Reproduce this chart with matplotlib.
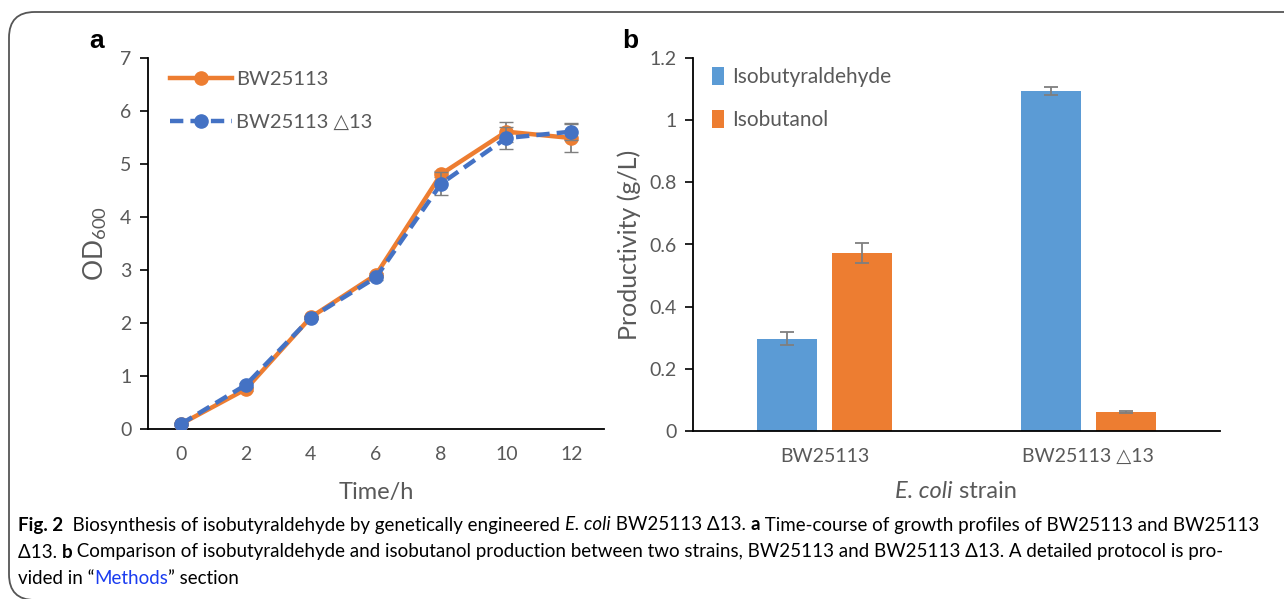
import matplotlib
matplotlib.use("Agg")
import matplotlib.pyplot as plt
from matplotlib.patches import FancyBboxPatch
import numpy as np

# panel a: growth curves
time_h = [0, 2, 4, 6, 8, 10, 12]
od_wt = [0.09, 0.75, 2.11, 2.91, 4.81, 5.61, 5.49]
od_wt_err = [0.02, 0.03, 0.03, 0.04, 0.05, 0.19, 0.27]
od_d13 = [0.09, 0.83, 2.10, 2.86, 4.63, 5.49, 5.61]
od_d13_err = [0.02, 0.03, 0.03, 0.04, 0.21, 0.20, 0.16]
line_labels = ["BW25113", "BW25113 \u25b313"]

# panel b: productivity
strains = ["BW25113", "BW25113 \u25b313"]
aldehyde = [0.297, 1.094]
aldehyde_err = [0.020, 0.012]
butanol = [0.573, 0.061]
butanol_err = [0.033, 0.002]
bar_labels = ["Isobutyraldehyde", "Isobutanol"]

ORANGE = "#ED7D31"
BLUE_LINE = "#4472C4"
BLUE_BAR = "#5B9BD5"
GREY = "#595959"
FONT = "Lato"

plt.rcParams["font.family"] = [FONT, "DejaVu Sans"]
plt.rcParams["mathtext.fontset"] = "custom"
plt.rcParams["mathtext.rm"] = FONT
plt.rcParams["mathtext.it"] = FONT + ":italic"

W, H = 1284, 599
fig = plt.figure(figsize=(W / 100, H / 100), dpi=100)

# rounded frame around the figure
frame = FancyBboxPatch((9 / W, 1 - 600 / H), 1.2, 588 / H,
                       boxstyle="round,pad=0,rounding_size=0.02",
                       transform=fig.transFigure, fill=False,
                       ec="#555555", lw=1.3, mutation_aspect=W / H)
fig.patches.append(frame)


def px_axes(l, t, r, b):
    return fig.add_axes([l / W, 1 - b / H, (r - l) / W, (b - t) / H])


def style(ax):
    for s in ["top", "right"]:
        ax.spines[s].set_visible(False)
    for s in ["left", "bottom"]:
        ax.spines[s].set_color("#000000")
        ax.spines[s].set_linewidth(1.3)
    ax.tick_params(axis="y", direction="out", length=6, width=1.2,
                   colors="#000000", labelcolor=GREY, labelsize=14, pad=6)
    ax.tick_params(axis="x", length=0, labelcolor=GREY, labelsize=14, pad=12)


# ---- panel a
axa = px_axes(148, 58, 604, 429)
style(axa)
axa.errorbar(time_h, od_wt, yerr=od_wt_err, color=ORANGE, lw=3.2,
             marker="o", ms=9.5, ecolor="#7f7f7f", elinewidth=1.3, capsize=5,
             label=line_labels[0], zorder=3)
axa.errorbar(time_h, od_d13, yerr=od_d13_err, color=BLUE_LINE, lw=3.2,
             ls=(0, (3, 1.6)), marker="o", ms=9.5, ecolor="#7f7f7f",
             elinewidth=1.3, capsize=5, label=line_labels[1], zorder=4)
axa.set_xlim(-1, 13)
axa.set_ylim(0, 7)
axa.set_xticks(time_h)
axa.set_yticks(range(0, 8))
axa.set_xlabel("Time/h", fontsize=17, color=GREY, labelpad=14)
axa.set_ylabel("OD$_{600}$", fontsize=19, color=GREY, labelpad=8)
h, l = axa.get_legend_handles_labels()
h = [x[0] for x in h]
axa.legend(h, l, loc="upper left", bbox_to_anchor=(0.048, 0.965), frameon=False,
           fontsize=14.5, handlelength=3.1, labelspacing=1.3, borderpad=0,
           borderaxespad=0, handletextpad=0.2, labelcolor=GREY)

# ---- panel b
axb = px_axes(693, 58, 1220, 431)
style(axb)
x = np.arange(len(strains))
bw = 0.228
err_kw = dict(ecolor="#7f7f7f", elinewidth=1.3, capsize=5, capthick=1.3)
axb.bar(x - 0.143, aldehyde, bw, yerr=aldehyde_err, color=BLUE_BAR,
        label=bar_labels[0], error_kw=err_kw)
axb.bar(x + 0.143, butanol, bw, yerr=butanol_err, color=ORANGE,
        label=bar_labels[1], error_kw=err_kw)
axb.set_xlim(-0.5, 1.5)
axb.set_ylim(0, 1.2)
yt = [0, 0.2, 0.4, 0.6, 0.8, 1.0, 1.2]
axb.set_yticks(yt)
axb.set_yticklabels(["0", "0.2", "0.4", "0.6", "0.8", "1", "1.2"])
axb.set_xticks(x)
axb.set_xticklabels(strains)
axb.set_ylabel("Productivity (g/L)", fontsize=18, color=GREY, labelpad=6)
axb.legend(loc="upper left", bbox_to_anchor=(0.036, 0.975), frameon=False,
           fontsize=15, handlelength=0.6, handleheight=0.9, labelspacing=1.1,
           borderpad=0, borderaxespad=0, handletextpad=0.35, labelcolor=GREY)

# panel letters
fig.text(97 / W, 1 - 41 / H, "a", fontsize=19, fontweight="bold",
         family=["Liberation Sans"], ha="center", va="center")
fig.text(630 / W, 1 - 41 / H, "b", fontsize=19, fontweight="bold",
         family=["Liberation Sans"], ha="center", va="center")

fig.canvas.draw()
r = fig.canvas.get_renderer()


def draw_runs(runs, x0, yy, size, family, center=False):
    # runs: (text, weight, style, colour); returns total width in px
    pieces = []
    xx = x0
    for txt, wt, st, col in runs:
        t = fig.text(xx / W, 1 - yy / H, txt, fontsize=size, fontweight=wt,
                     style=st, color=col, family=family, va="center",
                     ha="left")
        pieces.append(t)
        xx += t.get_window_extent(renderer=r).width
    tot = xx - x0
    if center:
        for t in pieces:
            px, py = t.get_position()
            t.set_position((px - tot / 2 / W, py))
    return tot


# x label of panel b with italic species name
draw_runs([("E. coli", "normal", "italic", GREY),
           (" strain", "normal", "normal", GREY)],
          956, 491, 17, [FONT], center=True)

# caption, drawn run by run and shrunk to the width of the box
cap_font = [FONT, "DejaVu Sans"]
cap_lines = [
    [("Fig. 2", "bold", "normal", "black"),
     ("  Biosynthesis of isobutyraldehyde by genetically engineered ", "normal", "normal", "black"),
     ("E. coli", "normal", "italic", "black"),
     (" BW25113 \u039413. ", "normal", "normal", "black"),
     ("a", "bold", "normal", "black"),
     (" Time-course of growth profiles of BW25113 and BW25113", "normal", "normal", "black")],
    [("\u039413. ", "normal", "normal", "black"),
     ("b", "bold", "normal", "black"),
     (" Comparison of isobutyraldehyde and isobutanol production between two strains, BW25113 and BW25113 \u039413. A detailed protocol is pro-",
      "normal", "normal", "black")],
    [("vided in \u201c", "normal", "normal", "black"),
     ("Methods", "normal", "normal", "#1a3cf0"),
     ("\u201d section", "normal", "normal", "black")],
]
cap_y = [525, 552, 578]


def line_width(runs, size):
    tot = 0
    for txt, wt, st, col in runs:
        t = fig.text(0, 0, txt, fontsize=size, fontweight=wt, style=st,
                     family=cap_font)
        tot += t.get_window_extent(renderer=r).width
        t.remove()
    return tot


cap_size = 14.5
while max(line_width(cap_lines[0], cap_size), line_width(cap_lines[1], cap_size)) > 1258:
    cap_size -= 0.25

for runs, yy in zip(cap_lines, cap_y):
    draw_runs(runs, 18, yy, cap_size, cap_font)

fig.savefig("out.png", dpi=100)
